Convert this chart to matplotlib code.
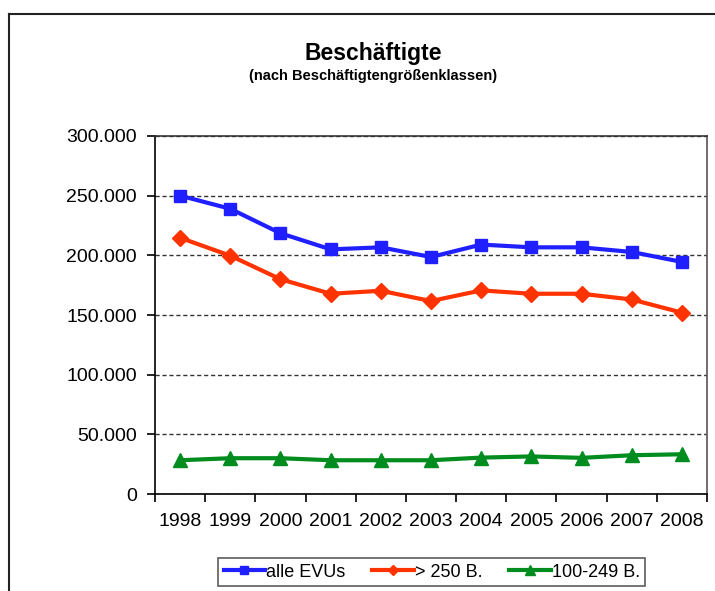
import numpy as np
import matplotlib
matplotlib.use("Agg")
import matplotlib.pyplot as plt
from matplotlib.lines import Line2D
from matplotlib.ticker import FuncFormatter, FixedLocator

plt.rcParams["font.family"] = ["Liberation Sans", "DejaVu Sans"]

years = ["1998", "1999", "2000", "2001", "2002", "2003", "2004", "2005", "2006", "2007", "2008"]
alle_evus = [250000, 239000, 218500, 205000, 206700, 198600, 209000, 206700, 206700, 202800, 194500]
gross_250 = [214700, 199700, 180000, 167800, 170300, 161700, 170600, 167800, 167800, 163000, 152000]
mittel_100_249 = [28300, 30000, 30000, 28300, 28300, 28300, 30500, 31500, 30300, 32500, 33300]

fig = plt.figure(figsize=(7.15, 5.91), dpi=100)
ax = fig.add_axes([0.2168, 0.1641, 0.9888 - 0.2168, 0.7699 - 0.1641])

x = np.arange(len(years))
ax.plot(x, alle_evus, color="#1f1fff", lw=3, marker="s", ms=8, label="alle EVUs")
ax.plot(x, gross_250, color="#ff3300", lw=3, marker="D", ms=8, label="> 250 B.")
ax.plot(x, mittel_100_249, color="#008c1e", lw=3, marker="^", ms=10, label="100-249 B.")

ax.set_ylim(0, 300000)
ax.set_xlim(-0.5, len(years) - 0.5)
ax.set_yticks(np.arange(0, 300001, 50000))
ax.yaxis.set_major_formatter(FuncFormatter(lambda v, p: f"{int(v):,}".replace(",", ".")))
ax.yaxis.grid(True, linestyle=(0, (3, 2)), color="#333333", lw=1)
ax.set_axisbelow(True)

ax.xaxis.set_major_locator(FixedLocator(np.arange(-0.5, len(years), 1.0)))
ax.xaxis.set_minor_locator(FixedLocator(x))
ax.set_xticklabels([], minor=False)
ax.set_xticklabels(years, minor=True)
ax.tick_params(axis="x", which="minor", length=0, labelsize=14, pad=14)
ax.tick_params(axis="x", which="major", length=6, width=1.2, direction="out")
ax.tick_params(axis="y", length=6, width=1.2, direction="out", labelsize=14, pad=7)

for s in ax.spines.values():
    s.set_linewidth(1.2)
ax.spines["top"].set_color("#333333")
ax.spines["right"].set_color("#555555")

fig.text(0.522, 0.910, "Beschäftigte", ha="center", va="center", fontsize=16.5, fontweight="bold")
fig.text(0.522, 0.872, "(nach Beschäftigtengrößenklassen)", ha="center", va="center",
         fontsize=10.5, fontweight="bold")

leg = fig.legend(loc="center", bbox_to_anchor=(0.604, 0.032), ncol=3, fontsize=13,
                 frameon=True, fancybox=False, edgecolor="#333333", handlelength=2.3,
                 handletextpad=0.05, columnspacing=1.5, borderpad=0.3, markerscale=0.7)
leg.get_frame().set_linewidth(1.2)

# outer chart border (only left and top visible in the crop)
fig.add_artist(Line2D([0.0126, 0.0126], [0, 0.9763], color="#222222", lw=1.5))
fig.add_artist(Line2D([0.0126, 1.0], [0.9763, 0.9763], color="#222222", lw=1.5))

fig.savefig("out.png", dpi=100)
